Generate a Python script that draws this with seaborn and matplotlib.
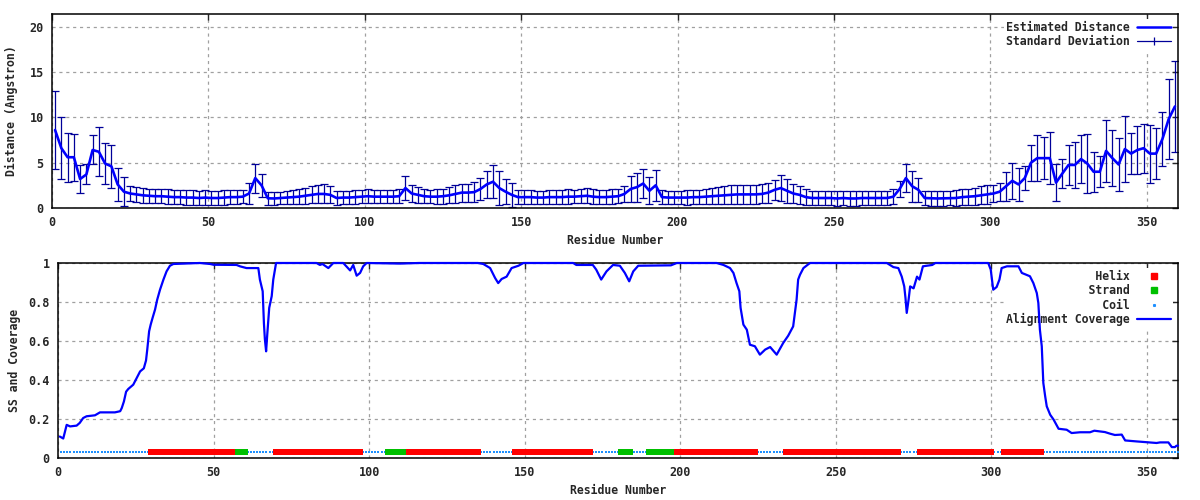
import matplotlib
matplotlib.use("Agg")
import matplotlib.pyplot as plt
import numpy as np
import pandas as pd
import seaborn as sns
from matplotlib.lines import Line2D

sns.set_style("white")
plt.rcParams['font.family'] = ['DejaVu Sans Mono']
plt.rcParams['font.weight'] = 'bold'
plt.rcParams['axes.labelweight'] = 'bold'
plt.rcParams['font.size'] = 8.3

# estimated distance + std, read at every 2nd residue (1, 3, ..., 359)
dist_res = list(range(1, 360, 2))
dist = [
    8.6, 6.6, 5.6, 5.6, 3.2, 3.7, 6.4, 6.2, 4.9, 4.6,
    2.6, 1.8, 1.6, 1.5, 1.4, 1.35, 1.3, 1.3, 1.25, 1.2,
    1.2, 1.15, 1.15, 1.1, 1.15, 1.1, 1.1, 1.15, 1.2, 1.2,
    1.25, 1.6, 3.3, 2.5, 1.07, 1.05, 1.1, 1.15, 1.2, 1.25,
    1.35, 1.45, 1.55, 1.55, 1.45, 1.1, 1.15, 1.15, 1.2, 1.25,
    1.3, 1.25, 1.25, 1.25, 1.25, 1.3, 2.2, 1.6, 1.45, 1.3,
    1.25, 1.25, 1.3, 1.4, 1.55, 1.7, 1.7, 1.75, 2.1, 2.6,
    2.9, 2.2, 1.8, 1.45, 1.2, 1.2, 1.2, 1.15, 1.15, 1.2,
    1.2, 1.2, 1.25, 1.25, 1.3, 1.35, 1.25, 1.2, 1.2, 1.25,
    1.3, 1.55, 2.1, 2.3, 2.7, 1.9, 2.5, 1.2, 1.15, 1.15,
    1.15, 1.15, 1.2, 1.2, 1.25, 1.3, 1.35, 1.4, 1.45, 1.5,
    1.5, 1.5, 1.5, 1.55, 1.7, 2.0, 2.2, 1.9, 1.6, 1.45,
    1.2, 1.1, 1.1, 1.1, 1.1, 1.05, 1.1, 1.05, 1.05, 1.1,
    1.1, 1.1, 1.1, 1.1, 1.25, 2.1, 3.3, 2.4, 2.0, 1.1,
    1.07, 1.05, 1.07, 1.1, 1.1, 1.2, 1.25, 1.3, 1.4, 1.5,
    1.6, 1.8, 2.4, 3.0, 2.6, 3.3, 5.0, 5.5, 5.5, 5.5,
    2.8, 3.8, 4.75, 4.75, 5.4, 4.9, 4.0, 4.0, 6.3, 5.5,
    4.8, 6.5, 6.0, 6.4, 6.6, 6.0, 6.0, 7.6, 9.8, 11.2,
]
dist_std = [
    4.3, 3.4, 2.7, 2.6, 1.5, 1.1, 1.6, 2.7, 2.3, 2.4,
    1.8, 1.6, 0.8, 0.8, 0.8, 0.8, 0.8, 0.8, 0.8, 0.8,
    0.8, 0.8, 0.8, 0.8, 0.8, 0.8, 0.8, 0.8, 0.8, 0.8,
    0.7, 1.2, 1.6, 1.3, 0.7, 0.7, 0.7, 0.7, 0.75, 0.8,
    0.9, 0.95, 1.0, 1.05, 0.95, 0.75, 0.7, 0.7, 0.75, 0.75,
    0.75, 0.75, 0.75, 0.75, 0.75, 0.8, 1.3, 0.9, 0.85, 0.8,
    0.75, 0.8, 0.85, 0.9, 1.0, 1.0, 1.0, 1.1, 1.2, 1.5,
    1.8, 1.9, 1.4, 1.3, 0.75, 0.75, 0.75, 0.75, 0.75, 0.75,
    0.75, 0.8, 0.8, 0.75, 0.8, 0.85, 0.8, 0.75, 0.75, 0.8,
    0.8, 0.9, 1.4, 1.6, 1.6, 1.5, 1.7, 0.75, 0.75, 0.75,
    0.75, 0.8, 0.8, 0.8, 0.85, 0.9, 0.95, 1.0, 1.05, 1.05,
    1.05, 1.05, 1.05, 1.05, 1.1, 1.1, 1.4, 1.3, 1.1, 1.0,
    0.85, 0.8, 0.8, 0.8, 0.8, 0.85, 0.8, 0.85, 0.85, 0.8,
    0.8, 0.8, 0.8, 0.8, 0.8, 0.9, 1.5, 1.7, 1.3, 0.75,
    0.8, 0.8, 0.8, 0.8, 0.85, 0.85, 0.9, 0.95, 1.0, 1.05,
    0.9, 1.0, 1.6, 2.0, 1.8, 1.3, 2.0, 2.5, 2.3, 2.9,
    2.0, 1.6, 2.2, 2.5, 2.6, 3.3, 2.2, 1.7, 3.4, 3.1,
    2.9, 3.6, 2.3, 2.6, 2.7, 3.2, 2.8, 3.0, 4.4, 5.0,
]

# alignment coverage (breakpoints of the curve)
cov_res = [0.6, 1.7, 2.3, 2.8, 3.9, 6, 7, 8.1, 9.2, 11.9, 13.5, 18.3, 20, 20.5, 21.2, 21.9,
           22.6, 24.2, 25.3, 26.4, 27.6, 28.3, 28.7, 29.3, 29.8, 30.4, 31.2, 31.9, 32.8, 33.9,
           34.9, 36, 37.1, 45.6, 48.9, 50, 57.4, 58.5, 60.6, 64.4, 64.9, 65.8, 66.2, 66.5, 66.9,
           67.3, 67.9, 68.7, 69.2, 70.1, 83.1, 84.2, 85, 86.9, 88.5, 91.7, 93.9, 94.9, 96, 97.1,
           98.1, 99.2, 110, 116, 135, 136.7, 138.9, 140.5, 141.5, 142.6, 144.2, 145.8, 148, 149.6,
           165.6, 166.6, 171.9, 173, 174.6, 176.3, 178.4, 180.6, 182.2, 183.6, 184.9, 186.5, 197,
           198.9, 211.7, 213.9, 216, 217.1, 218.1, 219, 219.4, 220.3, 221.4, 222.4, 224, 225.6,
           227.3, 228.9, 231, 233.1, 234.7, 236.3, 237.4, 237.9, 238.5, 239.6, 241.7, 266.4, 268.5,
           270.1, 271.2, 272, 272.4, 272.8, 273.4, 273.9, 275, 276.1, 276.9, 278, 281, 282, 299,
           299.8, 300.6, 301.7, 302.6, 303.3, 305, 308.7, 309.8, 312.4, 313.5, 314.6, 315.1, 315.6,
           316.2, 316.7, 317.3, 317.8, 318.9, 320, 321.6, 324.2, 325.8, 328.5, 331.7, 333.1, 336.5,
           338.1, 339.7, 341.9, 343, 346.7, 353.1, 354.2, 356.9, 358, 359, 359.5, 360]
cov_val = [0.11, 0.10, 0.137, 0.17, 0.162, 0.166, 0.18, 0.205, 0.214, 0.219, 0.234, 0.234, 0.24,
           0.256, 0.29, 0.34, 0.354, 0.376, 0.41, 0.444, 0.46, 0.50, 0.556, 0.65, 0.684, 0.718,
           0.761, 0.812, 0.863, 0.915, 0.957, 0.986, 0.995, 1.0, 0.995, 0.991, 0.99, 0.983, 0.974,
           0.974, 0.915, 0.855, 0.69, 0.61, 0.547, 0.64, 0.77, 0.83, 0.915, 1.0, 1.0, 0.99, 0.995,
           0.974, 1.0, 1.0, 0.962, 0.99, 0.935, 0.949, 0.983, 1.0, 0.997, 1.0, 1.0, 0.995, 0.974,
           0.923, 0.897, 0.918, 0.93, 0.974, 0.986, 1.0, 1.0, 0.99, 0.99, 0.966, 0.915, 0.957, 0.99,
           0.986, 0.949, 0.906, 0.957, 0.986, 0.988, 1.0, 1.0, 0.99, 0.974, 0.949, 0.897, 0.855,
           0.77, 0.684, 0.658, 0.581, 0.573, 0.53, 0.556, 0.569, 0.53, 0.59, 0.627, 0.675, 0.812,
           0.915, 0.94, 0.974, 1.0, 1.0, 0.979, 0.974, 0.93, 0.88, 0.82, 0.744, 0.812, 0.88, 0.87,
           0.93, 0.915, 0.983, 0.99, 1.0, 1.0, 0.966, 0.863, 0.877, 0.915, 0.974, 0.983, 0.983,
           0.949, 0.932, 0.897, 0.846, 0.795, 0.658, 0.573, 0.385, 0.316, 0.265, 0.222, 0.197,
           0.15, 0.145, 0.128, 0.132, 0.132, 0.14, 0.133, 0.125, 0.118, 0.12, 0.09, 0.085, 0.077,
           0.08, 0.08, 0.056, 0.056, 0.063, 0.063]

# secondary structure segments (H helix, E strand, C coil)
ss_start = [1, 30, 58, 61, 70, 98, 106, 112, 136, 147, 172, 181, 185, 190, 198, 225, 234, 271, 277, 301, 304, 317]
ss_end   = [29, 57, 60, 69, 97, 105, 111, 135, 146, 171, 180, 184, 189, 197, 224, 233, 270, 276, 300, 303, 316, 360]
ss_type  = ['C', 'H', 'E', 'C', 'H', 'C', 'E', 'H', 'C', 'H', 'C', 'E', 'C', 'E', 'H', 'C', 'H', 'C', 'H', 'C', 'H', 'C']
ss_level = 0.03

rows = []
for s, e, t in zip(ss_start, ss_end, ss_type):
    for r in range(s, e + 1):
        rows.append((r, t))
ss_df = pd.DataFrame(rows, columns=['res', 'ss'])
ss_df['y'] = ss_level

fig = plt.figure(figsize=(12, 5), dpi=100)
ax1 = fig.add_axes([0.0433, 0.584, 0.9384, 0.388])
ax2 = fig.add_axes([0.0483, 0.084, 0.9334, 0.39])

BLUE = '#0000ff'
NAVY = '#000099'
grid_kw = dict(color='#a0a0a0', linestyle=(0, (2.5, 3)), linewidth=0.9)

# ---- top: estimated distance
ax1.errorbar(dist_res, dist, yerr=dist_std, fmt='none', ecolor=NAVY,
             elinewidth=0.9, capsize=2.6, capthick=0.9, zorder=2)
sns.lineplot(x=dist_res, y=dist, ax=ax1, color=BLUE, linewidth=1.9, zorder=3)
ax1.set_xlim(0, 360)
ax1.set_ylim(0, 21.4)
ax1.set_xticks(range(0, 351, 50))
ax1.set_yticks([0, 5, 10, 15, 20])
ax1.set_xlabel('Residue Number', labelpad=3)
ax1.set_ylabel('Distance (Angstron)', labelpad=8)

h1 = [Line2D([], [], color=BLUE, lw=1.8),
      Line2D([], [], color=NAVY, lw=0.9, marker='|', markersize=6, markeredgewidth=0.9)]
ax1.legend(h1, ['Estimated Distance', 'Standard Deviation'], loc='upper right',
           markerfirst=False, handlelength=3.0, handletextpad=0.6, labelspacing=0.12,
           borderaxespad=0.4, borderpad=0.2, frameon=True, fancybox=False,
           facecolor='white', edgecolor='none', framealpha=1)

# ---- bottom: SS and coverage
colors = {'H': '#ff0000', 'E': '#00c000', 'C': '#1e90ff'}
for t, size in [('C', 1.0), ('H', 20), ('E', 20)]:
    sub = ss_df[ss_df['ss'] == t]
    sns.scatterplot(data=sub, x='res', y='y', ax=ax2, color=colors[t], marker='s',
                    s=size, linewidth=0, zorder=3)
sns.lineplot(x=cov_res, y=cov_val, ax=ax2, color=BLUE, linewidth=1.6, sort=False,
             estimator=None, zorder=6)
for ln in ax2.get_lines():
    ln.set_clip_on(False)
ax2.set_xlim(0, 360)
ax2.set_ylim(0, 1)
ax2.set_xticks(range(0, 351, 50))
ax2.set_yticks([0, 0.2, 0.4, 0.6, 0.8, 1])
ax2.set_yticklabels(['0', '0.2', '0.4', '0.6', '0.8', '1'])
ax2.set_xlabel('Residue Number', labelpad=3)
ax2.set_ylabel('SS and Coverage', labelpad=5)

h2 = [Line2D([], [], color=colors['H'], lw=0, marker='s', markersize=4),
      Line2D([], [], color=colors['E'], lw=0, marker='s', markersize=5),
      Line2D([], [], color=colors['C'], lw=0, marker='s', markersize=1.2),
      Line2D([], [], color=BLUE, lw=1.6)]
labels2 = ['Helix', 'Strand', 'Coil', 'Alignment Coverage']
w = max(len(s) for s in labels2)
labels2 = [s.rjust(w) for s in labels2]
leg2 = ax2.legend(h2, labels2, loc='upper right', markerfirst=False, handlelength=3.0,
                  handletextpad=0.6, labelspacing=0.12, borderaxespad=0.4, borderpad=0.2,
                  frameon=True, fancybox=False, facecolor='white', edgecolor='none', framealpha=1)
leg2.set_zorder(5)

for ax in (ax1, ax2):
    ax.grid(True, **grid_kw)
    ax.set_axisbelow(True)
    for sp in ax.spines.values():
        sp.set_color('black')
        sp.set_linewidth(1.1)
    ax.tick_params(direction='in', top=True, right=True, length=4, width=1,
                   labelsize=8.5, pad=6)
    for lab in ax.get_xticklabels() + ax.get_yticklabels():
        lab.set_fontweight('bold')

fig.savefig('out.png', dpi=100)
